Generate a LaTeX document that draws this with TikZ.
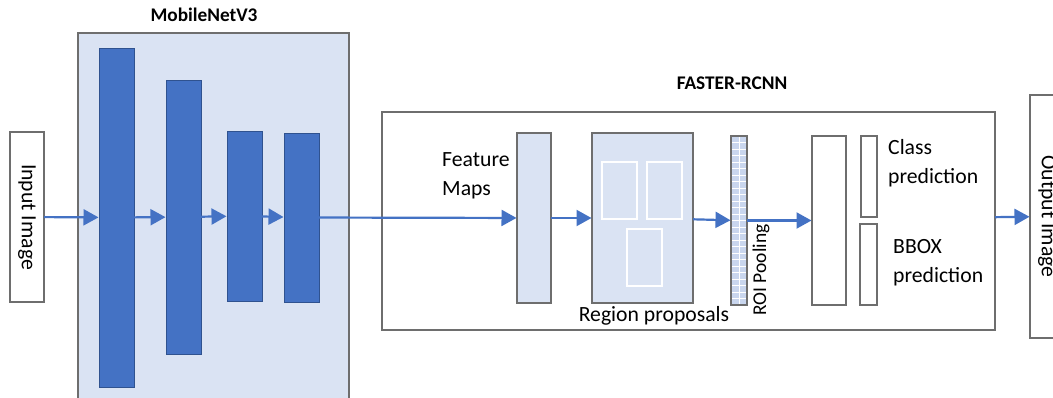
\documentclass[tikz,border=0pt]{standalone}
\usepackage{fontspec}
\setmainfont{Carlito}
\usetikzlibrary{arrows.meta}
\definecolor{frame}{HTML}{6E6E6E}
\definecolor{paleblue}{HTML}{DAE3F3}
\definecolor{barblue}{HTML}{4472C4}
\definecolor{bardark}{HTML}{2F528F}
\definecolor{roiblue}{HTML}{C9D6EE}
\tikzset{
  box/.style={draw=frame, line width=1.1pt, inner sep=0pt, outer sep=0pt, anchor=north west},
  whitebox/.style={box, fill=white},
  palebox/.style={box, fill=paleblue},
  bar/.style={draw=bardark, line width=0.9pt, fill=barblue, inner sep=0pt, outer sep=0pt, anchor=north west},
  proposal/.style={draw=white, line width=1.6pt, inner sep=0pt, anchor=north west, minimum width=35pt, minimum height=57pt},
  flow/.style={draw=barblue, line width=2.2pt, -{Triangle[length=15pt,width=16pt]}, shorten >=0.5pt},
  label/.style={inner sep=0pt, font=\fontsize{21.7}{29}\selectfont},
  smalllabel/.style={inner sep=0pt, font=\fontsize{19.5}{24}\selectfont},
  title/.style={inner sep=0pt, font=\fontsize{19.3}{23}\selectfont\bfseries},
}
\begin{document}
\begin{tikzpicture}[x=1pt, y=-1pt]
\useasboundingbox (0,0) rectangle (1053,398);
\clip (0,0) rectangle (1053,398);
\fill[white] (0,0) rectangle (1053,398);

% input
\node[whitebox, minimum width=34pt, minimum height=170pt] (in) at (10,132) {};
\node[label, rotate=-90] (intext) at (in.center) {Input Image};

% backbone
\node[palebox, minimum width=271pt, minimum height=380pt] (mnet) at (78,33) {};
\node[title] (mnettitle) at (204,15) {MobileNetV3};
\node[bar, minimum width=35pt, minimum height=339pt] (b1) at (99,48) {};
\node[bar, minimum width=35pt, minimum height=274pt] (b2) at (166,80) {};
\node[bar, minimum width=35pt, minimum height=170pt] (b3) at (227,131) {};
\node[bar, minimum width=35pt, minimum height=169pt] (b4) at (284,133) {};

% detector
\node[whitebox, minimum width=613pt, minimum height=218pt] (rcnn) at (382,112) {};
\node[title] (rcnntitle) at (732,83) {FASTER-RCNN};

\node[palebox, minimum width=34pt, minimum height=170pt] (feat) at (517,133) {};
\node[label, anchor=base west, align=left] (feattext) at (442,196) {Feature\\Maps};

\node[palebox, minimum width=101pt, minimum height=170pt] (reg) at (592,133) {};
\node[proposal] (p1) at (601,161) {};
\node[proposal] (p2) at (646,161) {};
\node[proposal] (p3) at (626,228) {};
\node[label, anchor=base] (regtext) at (654,322) {Region proposals};

% ROI pooling grid
\node[box, fill=roiblue, minimum width=16pt, minimum height=169pt] (roi) at (731,136) {};
\begin{scope}
  \clip (roi.north west) rectangle (roi.south east);
  \draw[white, line width=0.6pt] (roi.north) -- (roi.south);
  \foreach \k in {1,...,25} {
    \draw[white, line width=0.6pt] ([yshift=-6.5*\k pt]roi.north west) -- ([yshift=-6.5*\k pt]roi.north east);
  }
\end{scope}
\node[box, minimum width=16pt, minimum height=169pt] (roiframe) at (731,136) {};
\node[smalllabel, rotate=90, anchor=base west] (roitext) at (766,316) {ROI Pooling};

\node[whitebox, minimum width=34pt, minimum height=169pt] (fc) at (812,136) {};
\node[whitebox, minimum width=16pt, minimum height=81pt] (cls) at (861,136) {};
\node[whitebox, minimum width=17pt, minimum height=81pt] (bbox) at (860,224) {};
\node[label, anchor=base west, align=left] (clstext) at (888,184) {Class\\prediction};
\node[label, anchor=base west, align=left] (bboxtext) at (893,283) {BBOX\\prediction};

% output
\node[whitebox, minimum width=34pt, minimum height=243pt] (out) at (1030,95) {};
\node[label, rotate=-90] (outtext) at (out.center) {Output Image};

% connectors
\draw[flow] (in) -- (b1);
\draw[flow] (b1) -- (b2);
\draw[flow] (b2) -- (b3);
\draw[flow] (b3) -- (b4);
\draw[flow] (b4) -- (feat);
\draw[flow] (feat) -- (reg);
\draw[flow] (reg) -- (roi);
\draw[flow] (roi) -- (fc);
\draw[flow] (rcnn) -- (out);
\end{tikzpicture}
\end{document}
